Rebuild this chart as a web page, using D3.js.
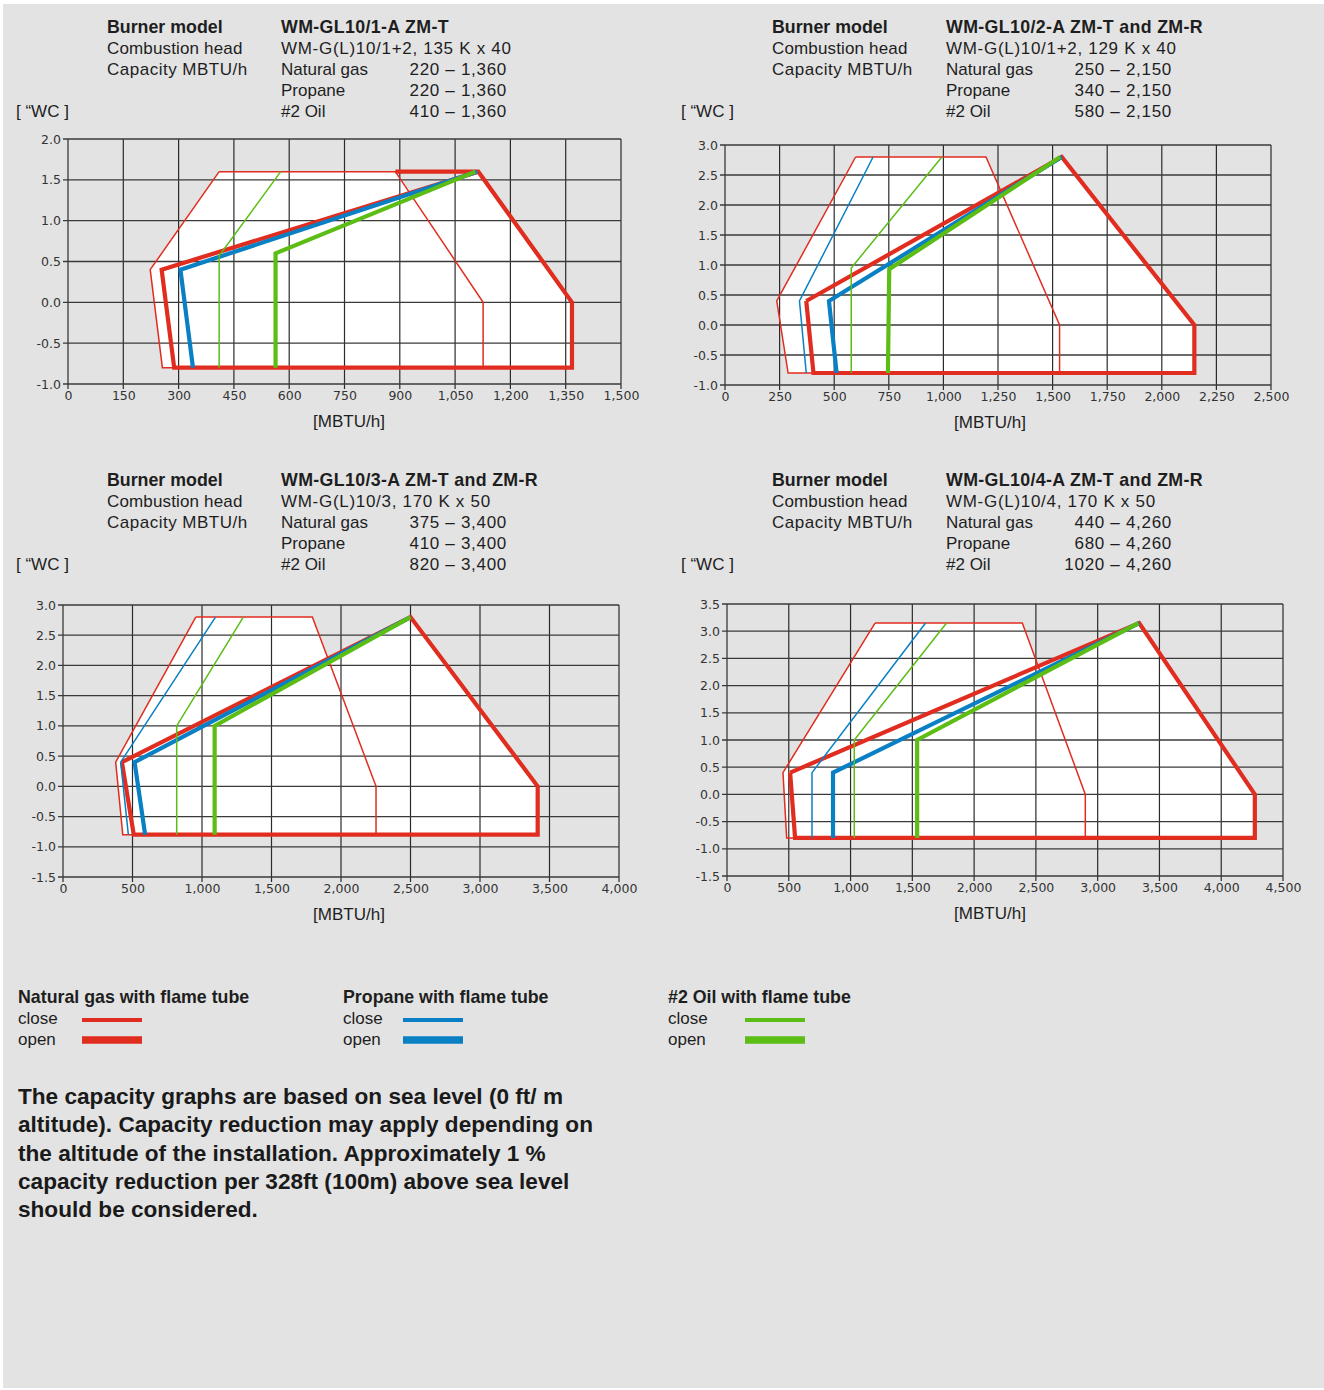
<!DOCTYPE html>
<html>
<head>
<meta charset="utf-8">
<script src="https://cdn.jsdelivr.net/npm/d3@7"></script>
<style>
  html, body { margin: 0; padding: 0; background: #ffffff; }
  svg { display: block; }
</style>
</head>
<body>
<svg id="chart" width="1324" height="1390"></svg>
<script>
// ---------- DATA ----------
const fuels = ["Natural gas", "Propane", "#2 Oil"];
const models = ["WM-GL10/1-A ZM-T", "WM-GL10/2-A ZM-T and ZM-R", "WM-GL10/3-A ZM-T and ZM-R", "WM-GL10/4-A ZM-T and ZM-R"];
const heads = ["WM-G(L)10/1+2, 135 K x 40", "WM-G(L)10/1+2, 129 K x 40", "WM-G(L)10/3, 170 K x 50", "WM-G(L)10/4, 170 K x 50"];
const capacities1 = ["220 – 1,360", "220 – 1,360", "410 – 1,360"];
const capacities2 = ["250 – 2,150", "340 – 2,150", "580 – 2,150"];
const capacities3 = ["375 – 3,400", "410 – 3,400", "820 – 3,400"];
const capacities4 = ["440 – 4,260", "680 – 4,260", "1020 – 4,260"];

const xTicks1 = [0, 150, 300, 450, 600, 750, 900, 1050, 1200, 1350, 1500];
const xTicks2 = [0, 250, 500, 750, 1000, 1250, 1500, 1750, 2000, 2250, 2500];
const xTicks3 = [0, 500, 1000, 1500, 2000, 2500, 3000, 3500, 4000];
const xTicks4 = [0, 500, 1000, 1500, 2000, 2500, 3000, 3500, 4000, 4500];
const yTicks1 = [-1.0, -0.5, 0.0, 0.5, 1.0, 1.5, 2.0];
const yTicks2 = [-1.0, -0.5, 0.0, 0.5, 1.0, 1.5, 2.0, 2.5, 3.0];
const yTicks3 = [-1.5, -1.0, -0.5, 0.0, 0.5, 1.0, 1.5, 2.0, 2.5, 3.0];
const yTicks4 = [-1.5, -1.0, -0.5, 0.0, 0.5, 1.0, 1.5, 2.0, 2.5, 3.0, 3.5];

// chart 1 series [MBTU/h, "WC]
const ngClose1 = [[410,1.6],[888,1.6],[1126,0],[1126,-0.8],[256,-0.8],[223,0.4],[410,1.6]];
const ngOpen1  = [[888,1.6],[1113,1.6],[1367,0],[1367,-0.8],[288,-0.8],[254,0.4],[1113,1.6]];
const prClose1 = [];
const prOpen1  = [[339,-0.8],[305,0.4],[1110,1.6]];
const oilClose1 = [[410,-0.8],[410,0.57],[577,1.6]];
const oilOpen1  = [[563,-0.8],[563,0.6],[1105,1.6]];
// chart 2
const ngClose2 = [[598,2.8],[1195,2.8],[1532,0],[1532,-0.8],[289,-0.8],[237,0.4],[598,2.8]];
const ngOpen2  = [[372,0.4],[1542,2.8],[2149,0],[2149,-0.8],[405,-0.8],[372,0.4]];
const prClose2 = [[372,-0.8],[341,0.4],[678,2.8]];
const prOpen2  = [[511,-0.8],[476,0.4],[1542,2.8]];
const oilClose2 = [[578,-0.8],[578,0.95],[993,2.8]];
const oilOpen2  = [[746,-0.8],[752,0.93],[1535,2.8]];
// chart 3
const ngClose3 = [[955,2.8],[1794,2.8],[2252,0],[2252,-0.8],[430,-0.8],[379,0.4],[955,2.8]];
const ngOpen3  = [[424,0.4],[2500,2.8],[3415,0],[3415,-0.8],[509,-0.8],[424,0.4]];
const prClose3 = [[470,-0.8],[415,0.4],[1097,2.8]];
const prOpen3  = [[591,-0.8],[515,0.4],[2500,2.8]];
const oilClose3 = [[818,-0.8],[818,1.0],[1297,2.8]];
const oilOpen3  = [[1091,-0.8],[1091,1.0],[2500,2.8]];
// chart 4
const ngClose4 = [[1198,3.15],[2390,3.15],[2900,0],[2900,-0.8],[483,-0.8],[453,0.4],[1198,3.15]];
const ngOpen4  = [[511,0.4],[3336,3.15],[4272,0],[4272,-0.8],[551,-0.8],[511,0.4]];
const prClose4 = [[688,-0.8],[688,0.4],[1607,3.15]];
const prOpen4  = [[858,-0.8],[858,0.4],[3336,3.15]];
const oilClose4 = [[1030,-0.8],[1030,1.0],[1777,3.15]];
const oilOpen4  = [[1539,-0.8],[1539,1.0],[3329,3.15]];

const legendGroups = ["Natural gas with flame tube", "Propane with flame tube", "#2 Oil with flame tube"];
const legendStates = ["close", "open"];
const note = [
  "The capacity graphs are based on sea level (0 ft/ m",
  "altitude). Capacity reduction may apply depending on",
  "the altitude of the installation. Approximately 1 %",
  "capacity reduction per 328ft (100m) above sea level",
  "should be considered."
];

// ---------- STYLE / LAYOUT ----------
const RED = "#e12d1f", BLUE = "#0a80c4", GREEN = "#5cbd14";
const colors = [RED, BLUE, GREEN];
const BG = "#e3e3e3";
const SANS = "'Liberation Sans', Arial, sans-serif";
const TICKF = "'DejaVu Sans', sans-serif";

const charts = [
  {model: models[0], head: heads[0], caps: capacities1, xT: xTicks1, yT: yTicks1,
   series: [ngClose1, ngOpen1, prClose1, prOpen1, oilClose1, oilOpen1],
   px0: 68, px1: 621, py0: 139, py1: 384, hx: 107, hx2: 281, hxr: 507, hy: 33, wcx: 16, lblx: 349},
  {model: models[1], head: heads[1], caps: capacities2, xT: xTicks2, yT: yTicks2,
   series: [ngClose2, ngOpen2, prClose2, prOpen2, oilClose2, oilOpen2],
   px0: 725, px1: 1271, py0: 145, py1: 385, hx: 772, hx2: 946, hxr: 1172, hy: 33, wcx: 681, lblx: 990},
  {model: models[2], head: heads[2], caps: capacities3, xT: xTicks3, yT: yTicks3,
   series: [ngClose3, ngOpen3, prClose3, prOpen3, oilClose3, oilOpen3],
   px0: 63, px1: 619, py0: 605, py1: 877, hx: 107, hx2: 281, hxr: 507, hy: 486, wcx: 16, lblx: 349},
  {model: models[3], head: heads[3], caps: capacities4, xT: xTicks4, yT: yTicks4,
   series: [ngClose4, ngOpen4, prClose4, prOpen4, oilClose4, oilOpen4],
   px0: 727, px1: 1283, py0: 604, py1: 876, hx: 772, hx2: 946, hxr: 1172, hy: 486, wcx: 681, lblx: 990}
];

const svg = d3.select("#chart");
svg.append("rect").attr("x", 3).attr("y", 4).attr("width", 1321).attr("height", 1384).attr("fill", BG);

const TXT = "#1e1e1e";
const LH = 21;

function txt(sel, x, y, s, size, bold, opts) {
  const t = sel.append("text").attr("x", x).attr("y", y)
    .style("font-family", SANS).style("font-size", size + "px")
    .style("font-weight", bold ? "bold" : "normal").attr("fill", TXT).text(s);
  if (opts && opts.anchor) t.attr("text-anchor", opts.anchor);
  if (opts && opts.ls) t.style("letter-spacing", opts.ls + "px");
  return t;
}

charts.forEach(c => {
  const g = svg.append("g");
  // header
  txt(g, c.hx, c.hy, "Burner model", 17.8, true);
  txt(g, c.hx2, c.hy, c.model, 17.8, true, {ls: 0.35});
  txt(g, c.hx, c.hy + LH, "Combustion head", 17, false, {ls: 0.15});
  txt(g, c.hx2, c.hy + LH, c.head, 17, false, {ls: 0.7});
  txt(g, c.hx, c.hy + 2 * LH, "Capacity MBTU/h", 17, false, {ls: 0.5});
  fuels.forEach((f, i) => {
    txt(g, c.hx2, c.hy + (2 + i) * LH, f, 17, false);
    txt(g, c.hxr, c.hy + (2 + i) * LH, c.caps[i], 17, false, {anchor: "end", ls: 0.7});
  });
  txt(g, c.wcx, c.hy + 4 * LH, "[ “WC ]", 17, false);

  const x = d3.scaleLinear().domain([c.xT[0], c.xT[c.xT.length - 1]]).range([c.px0, c.px1]);
  const y = d3.scaleLinear().domain([c.yT[0], c.yT[c.yT.length - 1]]).range([c.py1, c.py0]);
  const line = d3.line().x(d => x(d[0])).y(d => y(d[1]));

  // white envelope fill
  [c.series[0], c.series[1]].forEach(s => {
    g.append("path").attr("d", line(s) + "Z").attr("fill", "#ffffff").attr("stroke", "none");
  });

  // grid
  const grid = g.append("g");
  c.xT.forEach(v => {
    grid.append("line").attr("x1", x(v)).attr("x2", x(v)).attr("y1", c.py0).attr("y2", c.py1 + 5)
      .attr("stroke", "#2b2b2b").attr("stroke-width", 1.2);
  });
  c.yT.forEach(v => {
    grid.append("line").attr("x1", c.px0 - 5).attr("x2", c.px1).attr("y1", y(v)).attr("y2", y(v))
      .attr("stroke", "#3a3a3a").attr("stroke-width", 1.3);
  });

  // axis labels through d3 axes
  const xAxis = d3.axisBottom(x).tickValues(c.xT).tickSize(0).tickPadding(0)
    .tickFormat(d3.format(","));
  const ax = g.append("g").attr("transform", `translate(0,${c.py1 + 16})`).call(xAxis);
  ax.select(".domain").remove();
  ax.selectAll("text").style("font-family", TICKF).style("font-size", "12.5px")
    .attr("fill", "#333").attr("dy", 0).attr("y", 0);

  const yAxis = d3.axisLeft(y).tickValues(c.yT).tickSize(0).tickPadding(0)
    .tickFormat(v => v.toFixed(1));
  const ay = g.append("g").attr("transform", `translate(${c.px0 - 7},0)`).call(yAxis);
  ay.select(".domain").remove();
  ay.selectAll("text").style("font-family", TICKF).style("font-size", "12.5px")
    .attr("fill", "#333").attr("dy", "0.32em");

  txt(g, c.lblx, c.py1 + 43, "[MBTU/h]", 17, false, {anchor: "middle"});

  // series lines: [ngClose, ngOpen, prClose, prOpen, oilClose, oilOpen]
  c.series.forEach((s, i) => {
    if (!s.length) return;
    const thick = i % 2 === 1;
    g.append("path").attr("d", line(s)).attr("fill", "none")
      .attr("stroke", colors[Math.floor(i / 2)])
      .attr("stroke-width", thick ? 4.2 : 1.5)
      .attr("stroke-linejoin", "miter");
  });
});

// legend
const legX = [18, 343, 668];
const legLineX = [82, 403, 745];
legendGroups.forEach((t, i) => {
  txt(svg, legX[i], 1003, t, 17.8, true);
  legendStates.forEach((s, j) => {
    txt(svg, legX[i], 1024 + j * 21, s, 17, false);
    svg.append("line").attr("x1", legLineX[i]).attr("x2", legLineX[i] + 60)
      .attr("y1", 1020 + j * 20).attr("y2", 1020 + j * 20)
      .attr("stroke", colors[i]).attr("stroke-width", j ? 7.5 : 3.8);
  });
});

// note
note.forEach((t, i) => {
  txt(svg, 18, 1104 + i * 28.3, t, 22.6, true).attr("fill", "#1a1a1a");
});
</script>
</body>
</html>
